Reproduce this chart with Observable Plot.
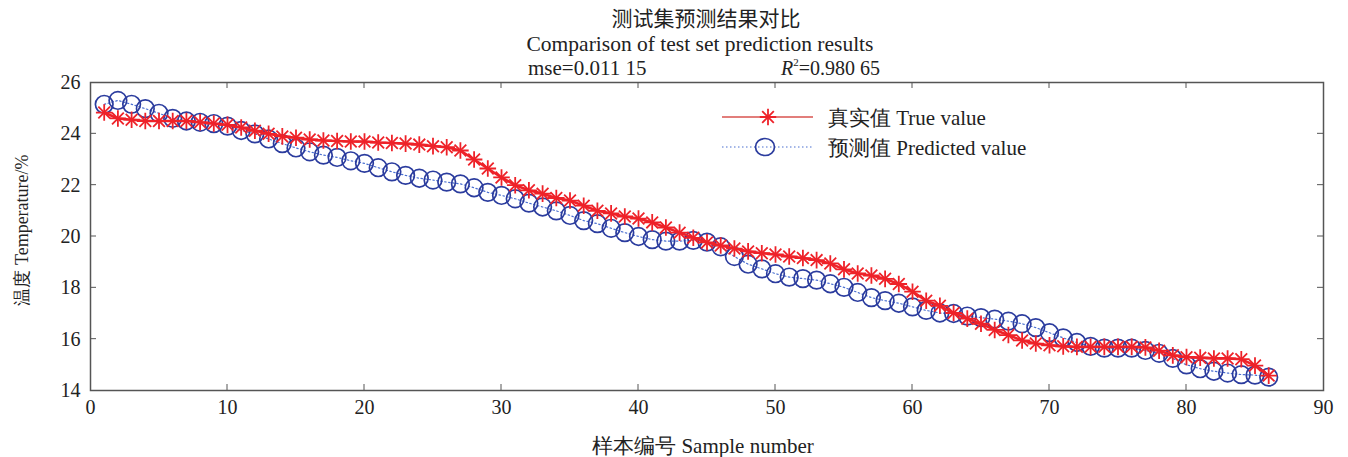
<!DOCTYPE html>
<html>
<head>
<meta charset="utf-8">
<script src="https://cdn.jsdelivr.net/npm/d3@7"></script>
<script src="https://cdn.jsdelivr.net/npm/@observablehq/plot@0.6"></script>
<style>
  html, body { margin: 0; padding: 0; background: #fff; }
  #chart svg { display: block; }
</style>
</head>
<body>
<div id="chart"></div>
<script>
const titleCN = "测试集预测结果对比";
const titleEN = "Comparison of test set prediction results";
const mseText = "mse=0.011 15";
const r2Value = "=0.980 65";
const xLabel = "样本编号 Sample number";
const yLabel = "温度 Temperature/%";
const seriesNames = ["真实值 True value", "预测值 Predicted value"];
const xTicks = [0, 10, 20, 30, 40, 50, 60, 70, 80, 90];
const yTicks = [14, 16, 18, 20, 22, 24, 26];

const trueValues = [
  24.83, 24.6, 24.55, 24.5, 24.5, 24.5, 24.5, 24.45, 24.4, 24.35,
  24.25, 24.12, 24.0, 23.9, 23.85, 23.78, 23.74, 23.72, 23.7, 23.7,
  23.66, 23.64, 23.62, 23.58, 23.52, 23.48, 23.35, 23.0, 22.65, 22.3,
  22.0, 21.8, 21.67, 21.5, 21.4, 21.2, 21.0, 20.9, 20.78, 20.7,
  20.55, 20.35, 20.15, 19.95, 19.77, 19.65, 19.53, 19.42, 19.35, 19.3,
  19.22, 19.16, 19.08, 18.95, 18.72, 18.56, 18.48, 18.35, 18.15, 17.85,
  17.5, 17.3, 17.02, 16.8, 16.6, 16.36, 16.16, 15.95, 15.83, 15.76,
  15.72, 15.7, 15.7, 15.7, 15.7, 15.7, 15.68, 15.55, 15.37, 15.3,
  15.28, 15.25, 15.25, 15.22, 14.97, 14.58
];
const predValues = [
  25.15, 25.3, 25.15, 24.98, 24.8, 24.6, 24.5, 24.45, 24.4, 24.3,
  24.13, 24.0, 23.8, 23.62, 23.45, 23.3, 23.17, 23.08, 22.95, 22.85,
  22.68, 22.52, 22.38, 22.27, 22.2, 22.12, 22.05, 21.9, 21.72, 21.6,
  21.47, 21.3, 21.15, 21.0, 20.82, 20.62, 20.5, 20.32, 20.15, 20.0,
  19.88, 19.82, 19.82, 19.85, 19.78, 19.6, 19.22, 18.92, 18.74, 18.55,
  18.42, 18.36, 18.3, 18.16, 18.02, 17.82, 17.62, 17.5, 17.4, 17.26,
  17.12, 17.02, 17.0, 16.9, 16.84, 16.78, 16.7, 16.6, 16.45, 16.25,
  16.05, 15.87, 15.72, 15.65, 15.65, 15.65, 15.56, 15.45, 15.25, 15.0,
  14.85, 14.75, 14.68, 14.62, 14.6, 14.52
];

const trueData = trueValues.map((v, i) => ({x: i + 1, y: v}));
const predData = predValues.map((v, i) => ({x: i + 1, y: v}));

const RED = "#ee2229";
const BLUE = "#2b3c9e";
const serif = "'Liberation Serif', 'Times New Roman', serif";

const W = 1348, H = 457;
const mL = 90, mR = 25, mT = 82, mB = 67;

const plot = Plot.plot({
  width: W,
  height: H,
  marginLeft: mL,
  marginRight: mR,
  marginTop: mT,
  marginBottom: mB,
  style: {fontFamily: serif, fontSize: "20px", color: "#222", background: "#fff"},
  x: {domain: [0, 90], ticks: xTicks},
  y: {domain: [14, 26], ticks: yTicks},
  marks: [
    Plot.frame({stroke: "#555", strokeWidth: 1.5}),
    Plot.axisX({ticks: xTicks, tickSize: 0, tickPadding: 9, fontSize: 20, label: null}),
    Plot.axisY({ticks: yTicks, tickSize: 0, tickPadding: 10, fontSize: 20, label: null}),
    Plot.line(predData, {x: "x", y: "y", stroke: "#4a6fd0", strokeWidth: 1.2, strokeDasharray: "1.5,2.5"}),
    Plot.dot(predData, {x: "x", y: "y", r: 8.8, stroke: BLUE, strokeWidth: 1.7, fill: "none"}),
    Plot.line(trueData, {x: "x", y: "y", stroke: RED, strokeWidth: 2.6}),
    Plot.dot(trueData, {x: "x", y: "y", symbol: "plus", r: 5.4, stroke: RED, strokeWidth: 1.8}),
    Plot.dot(trueData, {x: "x", y: "y", symbol: "times", r: 5.4, stroke: RED, strokeWidth: 1.8})
  ]
});

const svg = d3.select(plot);

// inward ticks on all four sides (MATLAB box style)
const xs = plot.scale("x");
const ys = plot.scale("y");
const tg = svg.append("g").attr("stroke", "#555").attr("stroke-width", 1);
xTicks.slice(1, -1).forEach(t => {
  const px = xs.apply(t);
  tg.append("line").attr("x1", px).attr("x2", px).attr("y1", H - mB).attr("y2", H - mB - 6);
  tg.append("line").attr("x1", px).attr("x2", px).attr("y1", mT).attr("y2", mT + 6);
});
yTicks.slice(1, -1).forEach(t => {
  const py = ys.apply(t);
  tg.append("line").attr("x1", mL).attr("x2", mL + 6).attr("y1", py).attr("y2", py);
  tg.append("line").attr("x1", W - mR).attr("x2", W - mR - 6).attr("y1", py).attr("y2", py);
});

// titles
const tt = svg.append("g").attr("fill", "#222").attr("font-family", serif).attr("text-anchor", "start");
tt.append("text").attr("x", 706).attr("y", 26).attr("text-anchor", "middle")
  .attr("font-size", 21).attr("font-family", "'Noto Sans CJK SC', sans-serif").text(titleCN);
tt.append("text").attr("x", 700).attr("y", 51).attr("text-anchor", "middle")
  .attr("font-size", 21.5).text(titleEN);
tt.append("text").attr("x", 528).attr("y", 75).attr("font-size", 21).text(mseText);
const r2 = tt.append("text").attr("x", 781).attr("y", 75).attr("font-size", 20);
r2.append("tspan").attr("font-style", "italic").text("R");
r2.append("tspan").attr("font-size", 11).attr("dy", -9).text("2");
r2.append("tspan").attr("dy", 9).text(r2Value);

// axis labels
tt.append("text").attr("x", 703).attr("y", 453).attr("text-anchor", "middle")
  .attr("font-size", 21).text(xLabel);
tt.append("text").attr("transform", "translate(28,230) rotate(-90)").attr("text-anchor", "middle")
  .attr("font-size", 18).text(yLabel);

// legend
const lg = svg.append("g").attr("text-anchor", "start");
lg.append("line").attr("x1", 722).attr("x2", 813).attr("y1", 117).attr("y2", 117)
  .attr("stroke", "#d9534f").attr("stroke-width", 1.6);
lg.append("path").attr("transform", "translate(768,117)")
  .attr("d", d3.symbol(d3.symbolPlus, 90)()).attr("stroke", RED).attr("stroke-width", 1.8).attr("fill", "none");
lg.append("path").attr("transform", "translate(768,117)")
  .attr("d", d3.symbol(d3.symbolTimes, 90)()).attr("stroke", RED).attr("stroke-width", 1.8).attr("fill", "none");
lg.append("line").attr("x1", 722).attr("x2", 813).attr("y1", 147).attr("y2", 147)
  .attr("stroke", "#4a6fd0").attr("stroke-width", 1.2).attr("stroke-dasharray", "1.5,2.5");
lg.append("ellipse").attr("cx", 765).attr("cy", 147).attr("rx", 9.5).attr("ry", 8.5)
  .attr("stroke", BLUE).attr("stroke-width", 1.7).attr("fill", "none");
lg.append("text").attr("x", 828).attr("y", 125).attr("font-size", 21).attr("fill", "#222")
  .attr("font-family", serif).text(seriesNames[0]);
lg.append("text").attr("x", 828).attr("y", 155).attr("font-size", 21).attr("fill", "#222")
  .attr("font-family", serif).text(seriesNames[1]);

document.getElementById("chart").append(plot);
</script>
</body>
</html>
